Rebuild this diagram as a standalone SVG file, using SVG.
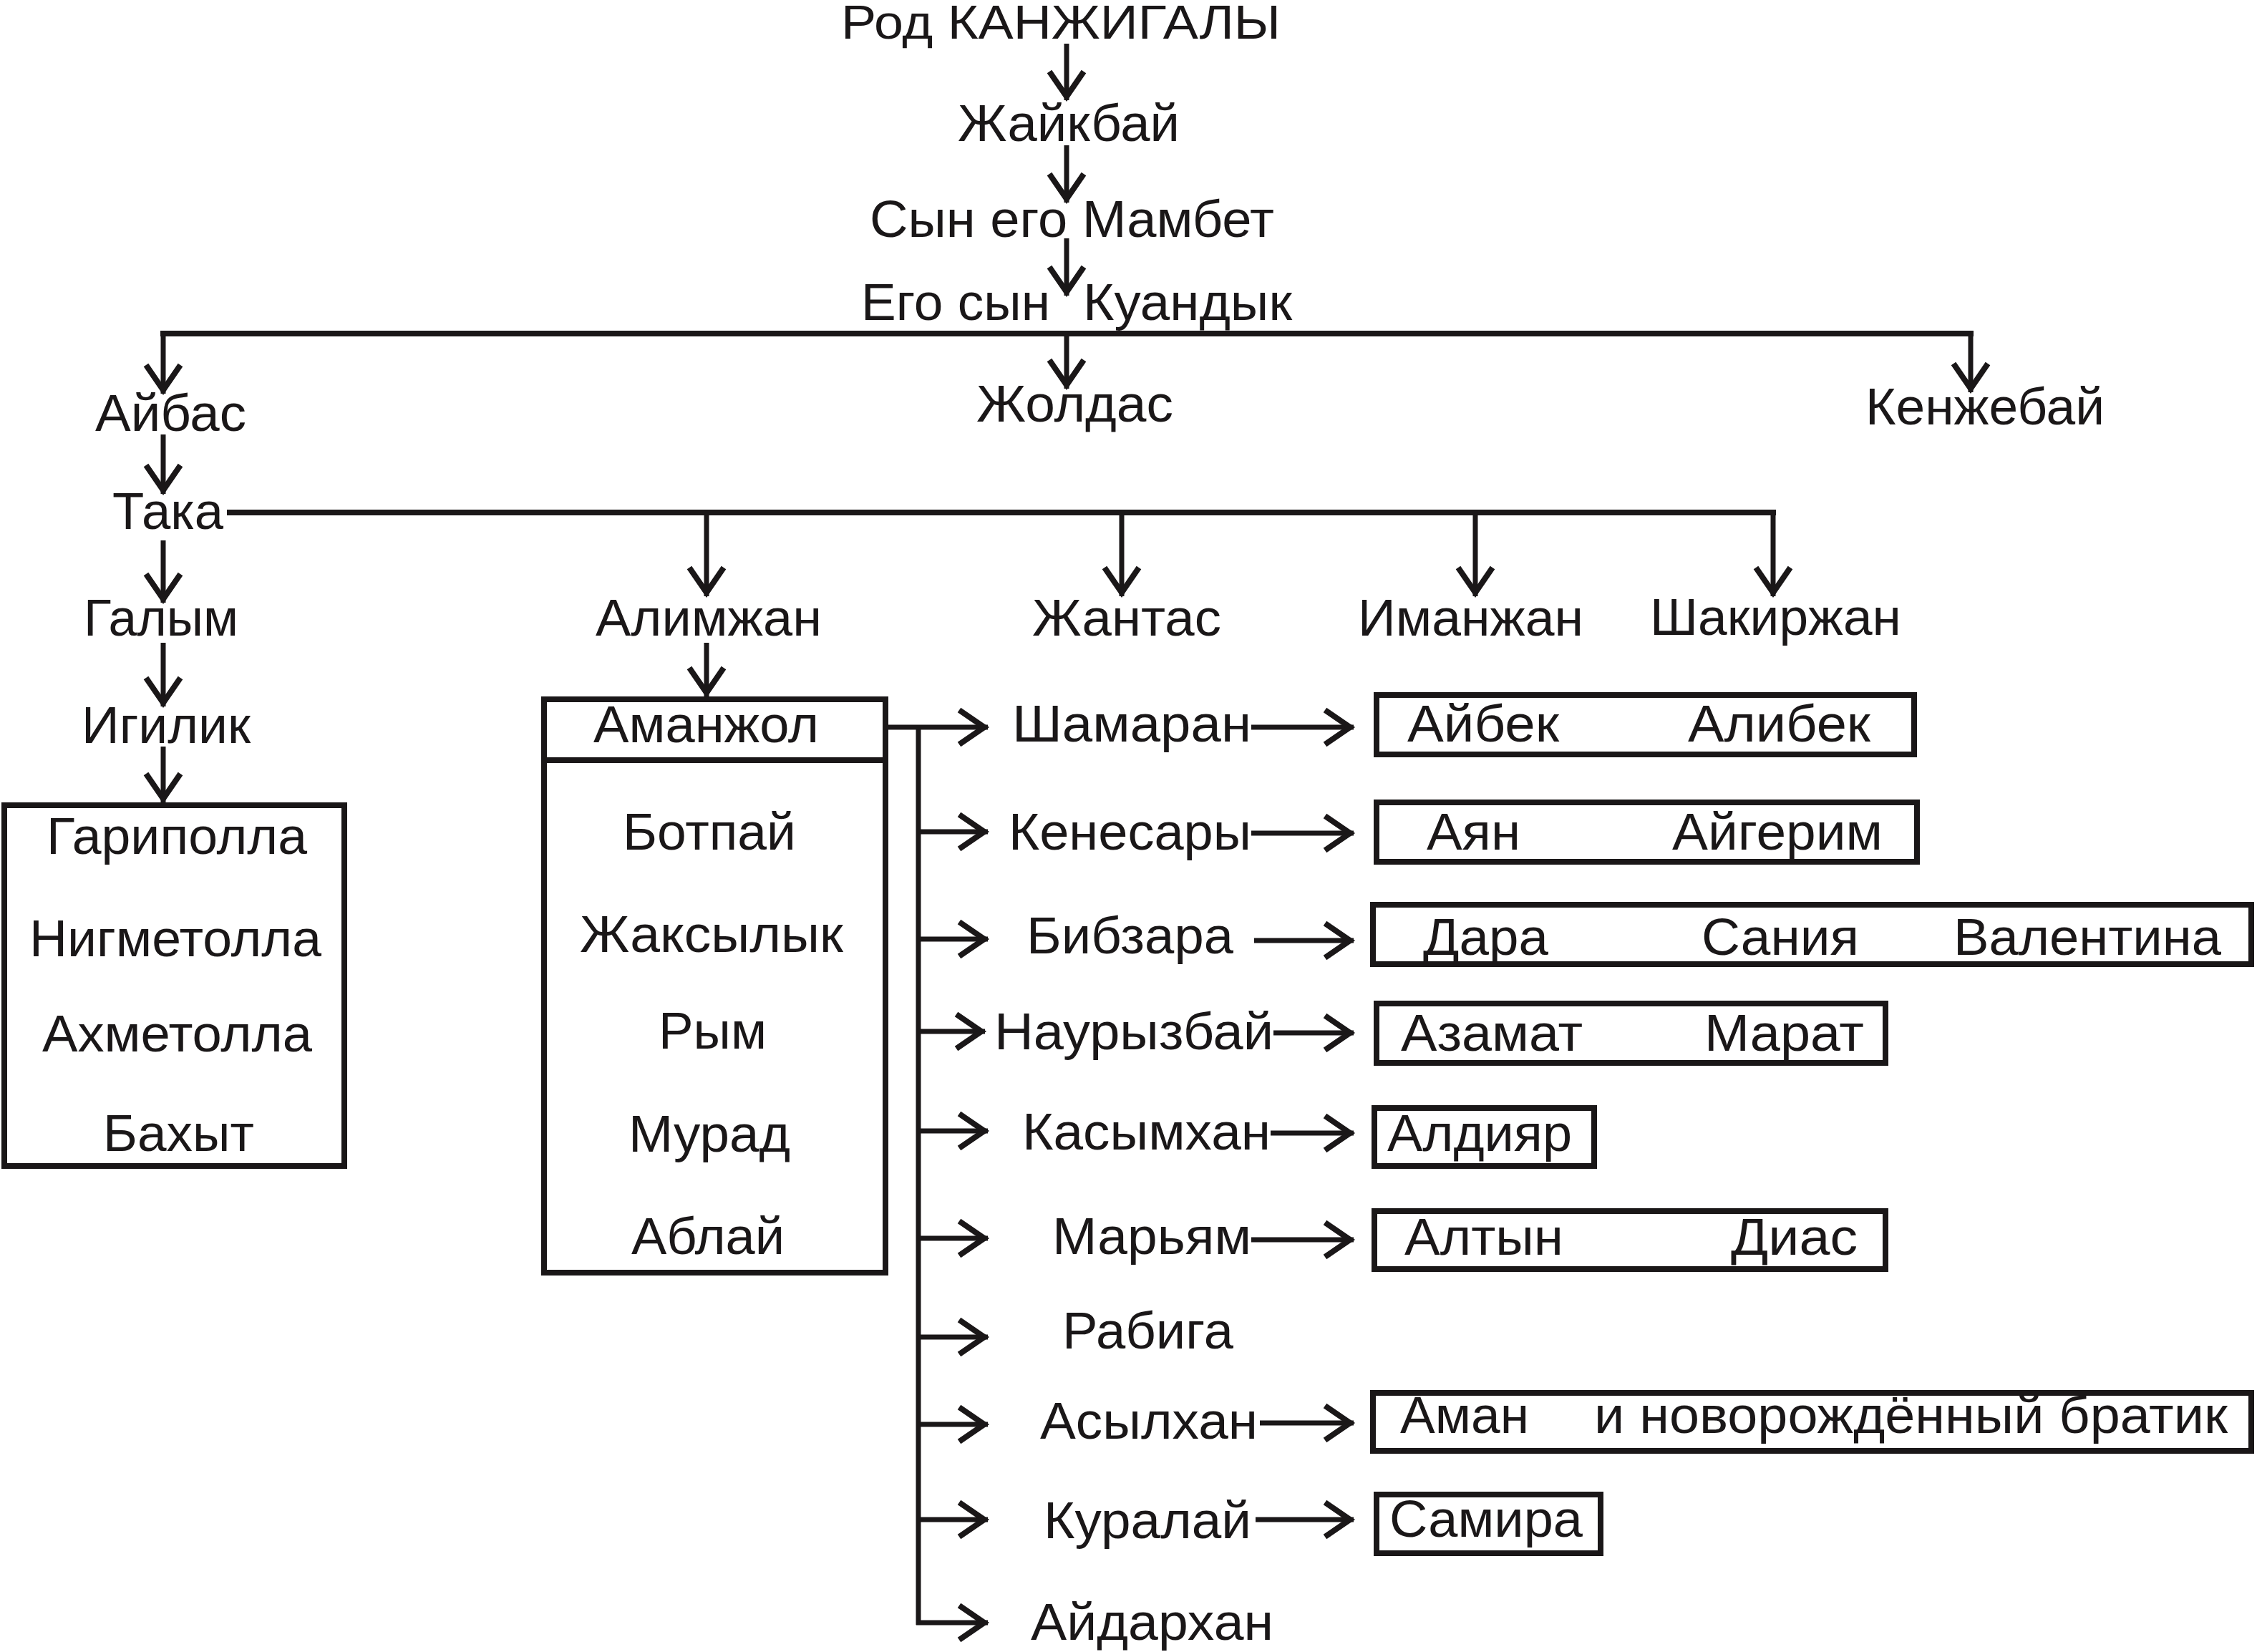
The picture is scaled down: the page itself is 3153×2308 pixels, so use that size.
<svg xmlns="http://www.w3.org/2000/svg" width="3153" height="2308" viewBox="0 0 3153 2308">
<style>
text{font-family:"Liberation Sans",Arial,sans-serif;font-size:73px;fill:#1a1718}
.c{stroke:#1a1718;stroke-width:7;fill:none}
.a{stroke:#1a1718;stroke-width:7;fill:none;marker-end:url(#ah)}
.b{stroke:#1a1718;stroke-width:8;fill:none}
</style>
<defs>
<marker id="ah" markerUnits="userSpaceOnUse" markerWidth="60" markerHeight="60" refX="0" refY="0" orient="auto" overflow="visible">
<path d="M-40,-24 L-5,0 L-40,24" stroke="#1a1718" stroke-width="8" fill="none" stroke-linejoin="miter"/>
</marker>
</defs>
<rect width="3153" height="2308" fill="#fff"/>
<g id="connectors">
<line class="a" x1="1490" y1="61" x2="1490" y2="140"/>
<line class="a" x1="1490" y1="203" x2="1490" y2="283"/>
<line class="a" x1="1490" y1="333" x2="1490" y2="413"/>
<line class="b" x1="224" y1="466" x2="2757" y2="466"/>
<line class="a" x1="228" y1="466" x2="228" y2="550"/>
<line class="a" x1="1490" y1="466" x2="1490" y2="543"/>
<line class="a" x1="2753" y1="466" x2="2753" y2="548"/>
<line class="a" x1="228" y1="607" x2="228" y2="690"/>
<line class="b" x1="317" y1="716" x2="2481" y2="716"/>
<line class="a" x1="987" y1="716" x2="987" y2="833"/>
<line class="a" x1="1567" y1="716" x2="1567" y2="833"/>
<line class="a" x1="2061" y1="716" x2="2061" y2="833"/>
<line class="a" x1="2477" y1="716" x2="2477" y2="833"/>
<line class="a" x1="228" y1="755" x2="228" y2="842"/>
<line class="a" x1="228" y1="898" x2="228" y2="987"/>
<line class="a" x1="228" y1="1043" x2="228" y2="1121"/>
<line class="a" x1="987" y1="898" x2="987" y2="973"/>
<line class="a" x1="1241" y1="1016" x2="1380" y2="1016"/>
<line class="c" x1="1283" y1="1016" x2="1283" y2="2270"/>
<line class="a" x1="1283" y1="1162" x2="1380" y2="1162"/>
<line class="a" x1="1283" y1="1312" x2="1380" y2="1312"/>
<line class="a" x1="1283" y1="1441" x2="1376" y2="1441"/>
<line class="a" x1="1283" y1="1580" x2="1380" y2="1580"/>
<line class="a" x1="1283" y1="1730" x2="1380" y2="1730"/>
<line class="a" x1="1283" y1="1868" x2="1380" y2="1868"/>
<line class="a" x1="1283" y1="1990" x2="1380" y2="1990"/>
<line class="a" x1="1283" y1="2123" x2="1380" y2="2123"/>
<line class="a" x1="1280" y1="2267" x2="1380" y2="2267"/>
<line class="a" x1="1748" y1="1016" x2="1891" y2="1016"/>
<line class="a" x1="1748" y1="1164" x2="1891" y2="1164"/>
<line class="a" x1="1752" y1="1314" x2="1891" y2="1314"/>
<line class="a" x1="1779" y1="1443" x2="1891" y2="1443"/>
<line class="a" x1="1775" y1="1583" x2="1891" y2="1583"/>
<line class="a" x1="1748" y1="1732" x2="1891" y2="1732"/>
<line class="a" x1="1760" y1="1988" x2="1891" y2="1988"/>
<line class="a" x1="1754" y1="2123" x2="1891" y2="2123"/>
</g>
<g id="n-rod"><text x="1175" y="54" style="font-size:66px" textLength="614" lengthAdjust="spacingAndGlyphs">Род КАНЖИГАЛЫ</text></g>
<g id="n-zhaikbai"><text x="1338" y="197" textLength="310" lengthAdjust="spacingAndGlyphs">Жайкбай</text></g>
<g id="n-mambet"><text x="1215" y="331" textLength="565" lengthAdjust="spacingAndGlyphs">Сын его Мамбет</text></g>
<g id="n-kuandyk"><text x="1203" y="447" textLength="264" lengthAdjust="spacingAndGlyphs">Его сын</text><text x="1513" y="447" textLength="292" lengthAdjust="spacingAndGlyphs">Куандык</text></g>
<g id="n-aibas"><text x="133" y="602" textLength="211" lengthAdjust="spacingAndGlyphs">Айбас</text></g>
<g id="n-zholdas"><text x="1364" y="589" textLength="275" lengthAdjust="spacingAndGlyphs">Жолдас</text></g>
<g id="n-kenzhebai"><text x="2606" y="593" textLength="334" lengthAdjust="spacingAndGlyphs">Кенжебай</text></g>
<g id="n-taka"><text x="157" y="739" textLength="155" lengthAdjust="spacingAndGlyphs">Така</text></g>
<g id="n-galym"><text x="117" y="888" textLength="216" lengthAdjust="spacingAndGlyphs">Галым</text></g>
<g id="n-alimzhan"><text x="832" y="888" textLength="316" lengthAdjust="spacingAndGlyphs">Алимжан</text></g>
<g id="n-zhantas"><text x="1442" y="888" textLength="264" lengthAdjust="spacingAndGlyphs">Жантас</text></g>
<g id="n-imanzhan"><text x="1897" y="888" textLength="315" lengthAdjust="spacingAndGlyphs">Иманжан</text></g>
<g id="n-shakirzhan"><text x="2305" y="887" textLength="351" lengthAdjust="spacingAndGlyphs">Шакиржан</text></g>
<g id="n-igilik"><text x="114" y="1038" textLength="236" lengthAdjust="spacingAndGlyphs">Игилик</text></g>
<g id="n-igilik-children">
<rect class="b" x="6" y="1125" width="475" height="504"/>
<text x="65" y="1193" textLength="364" lengthAdjust="spacingAndGlyphs">Гариполла</text>
<text x="41" y="1336" textLength="408" lengthAdjust="spacingAndGlyphs">Нигметолла</text>
<text x="59" y="1469" textLength="377" lengthAdjust="spacingAndGlyphs">Ахметолла</text>
<text x="144" y="1608" textLength="211" lengthAdjust="spacingAndGlyphs">Бахыт</text>
</g>
<g id="n-alimzhan-children">
<rect class="b" x="760" y="977" width="477" height="801"/>
<line class="b" x1="760" y1="1062" x2="1237" y2="1062"/>
<text x="829" y="1037" textLength="315" lengthAdjust="spacingAndGlyphs">Аманжол</text>
<text x="870" y="1187" textLength="242" lengthAdjust="spacingAndGlyphs">Ботпай</text>
<text x="810" y="1330" textLength="368" lengthAdjust="spacingAndGlyphs">Жаксылык</text>
<text x="920" y="1465" textLength="151" lengthAdjust="spacingAndGlyphs">Рым</text>
<text x="878" y="1609" textLength="226" lengthAdjust="spacingAndGlyphs">Мурад</text>
<text x="882" y="1752" textLength="214" lengthAdjust="spacingAndGlyphs">Аблай</text>
</g>
<g id="n-shamaran"><text x="1414" y="1036" textLength="334" lengthAdjust="spacingAndGlyphs">Шамаран</text></g>
<g id="n-kenesary"><text x="1409" y="1187" textLength="339" lengthAdjust="spacingAndGlyphs">Кенесары</text></g>
<g id="n-bibzara"><text x="1434" y="1332" textLength="289" lengthAdjust="spacingAndGlyphs">Бибзара</text></g>
<g id="n-nauryzbai"><text x="1389" y="1466" textLength="390" lengthAdjust="spacingAndGlyphs">Наурызбай</text></g>
<g id="n-kasymkhan"><text x="1428" y="1606" textLength="347" lengthAdjust="spacingAndGlyphs">Касымхан</text></g>
<g id="n-maryam"><text x="1470" y="1752" textLength="278" lengthAdjust="spacingAndGlyphs">Марьям</text></g>
<g id="n-rabiga"><text x="1484" y="1884" textLength="239" lengthAdjust="spacingAndGlyphs">Рабига</text></g>
<g id="n-asylkhan"><text x="1453" y="2010" textLength="304" lengthAdjust="spacingAndGlyphs">Асылхан</text></g>
<g id="n-kuralai"><text x="1458" y="2149" textLength="290" lengthAdjust="spacingAndGlyphs">Куралай</text></g>
<g id="n-aidarkhan"><text x="1440" y="2291" textLength="339" lengthAdjust="spacingAndGlyphs">Айдархан</text></g>
<g id="n-shamaran-children">
<rect class="b" x="1923" y="971" width="751" height="83"/>
<text x="1966" y="1036" textLength="212" lengthAdjust="spacingAndGlyphs">Айбек</text>
<text x="2358" y="1036" textLength="255" lengthAdjust="spacingAndGlyphs">Алибек</text>
</g>
<g id="n-kenesary-children">
<rect class="b" x="1923" y="1121" width="755" height="83"/>
<text x="1993" y="1187" textLength="131" lengthAdjust="spacingAndGlyphs">Аян</text>
<text x="2336" y="1187" textLength="294" lengthAdjust="spacingAndGlyphs">Айгерим</text>
</g>
<g id="n-bibzara-children">
<rect class="b" x="1918" y="1264" width="1227" height="83"/>
<text x="1988" y="1334" textLength="175" lengthAdjust="spacingAndGlyphs">Дара</text>
<text x="2377" y="1334" textLength="220" lengthAdjust="spacingAndGlyphs">Сания</text>
<text x="2729" y="1334" textLength="374" lengthAdjust="spacingAndGlyphs">Валентина</text>
</g>
<g id="n-nauryzbai-children">
<rect class="b" x="1923" y="1402" width="711" height="83"/>
<text x="1957" y="1468" textLength="254" lengthAdjust="spacingAndGlyphs">Азамат</text>
<text x="2381" y="1468" textLength="223" lengthAdjust="spacingAndGlyphs">Марат</text>
</g>
<g id="n-kasymkhan-children">
<rect class="b" x="1920" y="1548" width="307" height="81"/>
<text x="1938" y="1608" textLength="258" lengthAdjust="spacingAndGlyphs">Алдияр</text>
</g>
<g id="n-maryam-children">
<rect class="b" x="1920" y="1692" width="714" height="81"/>
<text x="1962" y="1753" textLength="222" lengthAdjust="spacingAndGlyphs">Алтын</text>
<text x="2418" y="1753" textLength="177" lengthAdjust="spacingAndGlyphs">Диас</text>
</g>
<g id="n-asylkhan-children">
<rect class="b" x="1918" y="1946" width="1227" height="81"/>
<text x="1956" y="2002" textLength="180" lengthAdjust="spacingAndGlyphs">Аман</text>
<text x="2227" y="2002" textLength="885" lengthAdjust="spacingAndGlyphs">и новорождённый братик</text>
</g>
<g id="n-kuralai-children">
<rect class="b" x="1923" y="2088" width="313" height="82"/>
<text x="1941" y="2147" textLength="270" lengthAdjust="spacingAndGlyphs">Самира</text>
</g>
</svg>
